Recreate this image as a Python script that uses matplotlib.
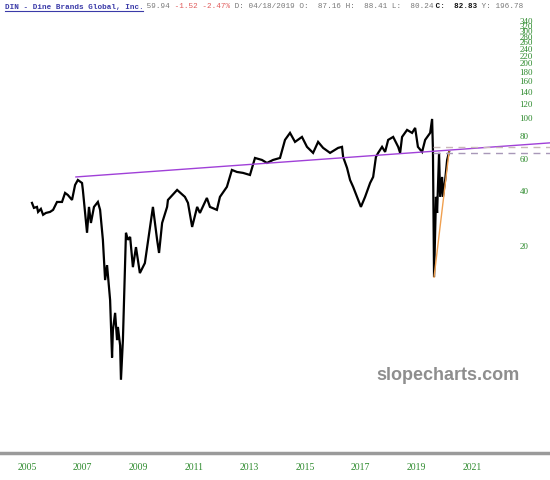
import matplotlib
matplotlib.use("Agg")
import matplotlib.pyplot as plt
from matplotlib.lines import Line2D

# price history (decimal year, close)
years = [2005.18, 2005.25, 2005.36, 2005.40, 2005.50, 2005.58, 2005.68, 2005.83,
         2005.94, 2006.08, 2006.26, 2006.37, 2006.47, 2006.62, 2006.73, 2006.83,
         2006.98, 2007.01, 2007.16, 2007.23, 2007.30, 2007.41, 2007.55, 2007.63,
         2007.73, 2007.81, 2007.88, 2007.99, 2008.06, 2008.09, 2008.17, 2008.24,
         2008.27, 2008.35, 2008.38, 2008.45, 2008.56, 2008.63, 2008.71, 2008.81,
         2008.92, 2009.06, 2009.24, 2009.53, 2009.68, 2009.75, 2009.86, 2010.04,
         2010.07, 2010.40, 2010.68, 2010.79, 2010.94, 2011.12, 2011.22, 2011.47,
         2011.58, 2011.83, 2011.94, 2012.19, 2012.37, 2012.55, 2012.77, 2013.02,
         2013.20, 2013.45, 2013.63, 2013.85, 2014.10, 2014.28, 2014.46, 2014.64,
         2014.89, 2015.07, 2015.29, 2015.47, 2015.65, 2015.90, 2016.19, 2016.33,
         2016.37, 2016.51, 2016.62, 2016.73, 2016.87, 2017.01, 2017.16, 2017.34,
         2017.45, 2017.55, 2017.63, 2017.77, 2017.88, 2017.99, 2018.17, 2018.35,
         2018.42, 2018.49, 2018.67, 2018.85, 2018.96, 2019.06, 2019.21, 2019.32,
         2019.50, 2019.57, 2019.60, 2019.64, 2019.71, 2019.75, 2019.82, 2019.86,
         2019.93, 2019.96, 2020.04, 2020.11, 2020.18]
prices = [34.4, 32.3, 32.7, 30.7, 31.9, 29.6, 30.3, 30.7,
          31.5, 34.8, 34.8, 39.0, 38.0, 35.7, 43.1, 45.9,
          44.2, 40.5, 23.6, 32.7, 26.7, 32.7, 34.8, 31.5,
          21.6, 13.0, 15.7, 10.1, 4.9, 6.9, 8.6, 6.1,
          7.2, 5.7, 3.7, 6.1, 23.6, 21.6, 22.4, 15.3,
          19.7, 14.2, 16.1, 32.7, 21.6, 18.3, 26.7, 32.7,
          35.7, 40.5, 37.1, 34.4, 25.4, 32.7, 30.3, 36.6,
          32.7, 31.5, 37.1, 42.1, 52.1, 50.8, 50.2, 48.9,
          60.6, 59.1, 56.9, 59.1, 60.6, 76.1, 83.1, 74.2,
          79.0, 69.7, 64.6, 74.2, 68.8, 64.6, 68.8, 69.7,
          61.4, 53.5, 45.9, 42.1, 37.1, 32.7, 37.1, 44.2,
          47.7, 61.4, 64.6, 69.7, 65.4, 76.1, 79.0, 69.7,
          64.6, 79.0, 86.3, 83.1, 88.5, 69.7, 65.4, 76.1,
          83.1, 99.1, 67.1, 13.5, 37.1, 30.3, 64.6, 37.1,
          47.7, 37.1, 45.9, 59.1, 65.4]

# trendlines
purple_x = [2006.76, 2023.81]
purple_y = [47.7, 73.3]
orange_x = [2019.64, 2020.18]
orange_y = [13.5, 65.4]
dash_start = 2019.60
dash_levels = [69.7, 64.6]

year_ticks = [2005, 2007, 2009, 2011, 2013, 2015, 2017, 2019, 2021]
price_ticks = [20, 40, 60, 80, 100, 120, 140, 160, 180, 200, 220, 240,
               260, 280, 300, 320, 340]

header = [("DIN - Dine Brands Global, Inc.", "#3a3aa8", "bold"),
          (" 59.94", "#777777", "normal"),
          (" -1.52 -2.47%", "#e05a5a", "normal"),
          (" D: 04/18/2019 O:  87.16 H:  88.41 L:  80.24", "#777777", "normal"),
          (" C:  82.83", "#111111", "bold"),
          (" Y: 196.78", "#777777", "normal")]

W, H = 550, 480
fig = plt.figure(figsize=(W / 100, H / 100), dpi=100)
ax = fig.add_axes([0, 27 / H, 1, 439 / H])

ax.set_yscale("log")
ax.set_xlim(2004.03, 2023.81)
ax.set_ylim(1.47, 372)

ax.plot(years, prices, color="black", lw=1.6, solid_joinstyle="miter")
ax.plot(purple_x, purple_y, color="#a040d8", lw=1.0)
ax.plot(orange_x, orange_y, color="#f0a050", lw=1.0)
ax.plot([dash_start, purple_x[1]], [dash_levels[0]] * 2, color="#c8b8b8",
        lw=1.0, ls=(0, (5, 4)))
ax.plot([dash_start, purple_x[1]], [dash_levels[1]] * 2, color="#a898b8",
        lw=1.0, ls=(0, (5, 4)))

green = "#2e8b2e"
ax.set_xticks(year_ticks)
ax.set_xticklabels([str(y) for y in year_ticks], fontsize=7,
                   family="Liberation Serif", color=green)
ax.set_yticks(price_ticks)
ax.set_yticklabels([str(p) for p in price_ticks], fontsize=6.5,
                   family="Liberation Serif", color=green)
ax.minorticks_off()
ax.tick_params(axis="x", length=0, pad=7)
ax.tick_params(axis="y", length=0, left=False, right=False,
               labelleft=False, labelright=True, pad=-22)

for side in ["top", "left", "right"]:
    ax.spines[side].set_visible(False)
ax.spines["bottom"].set_color("#9a9a9a")
ax.spines["bottom"].set_linewidth(2.5)

# watermark, placed in pixels from the bottom-left corner
ax.text(448, H - 375, "slopecharts.com", transform=None, fontsize=13,
        fontweight="bold", family="Liberation Sans", color="#8e8e8e",
        ha="center", va="center")

# header line, monospaced so each segment starts after the previous one
char_w = 0.6 * 5.5 * 100 / 72
n = 0
for txt, col, wt in header:
    fig.text((5 + n * char_w) / W, 1 - 7 / H, txt, fontsize=5.5,
             family="Liberation Mono", color=col, fontweight=wt, va="center")
    n += len(txt)
title_len = len(header[0][0]) * char_w
fig.add_artist(Line2D([5 / W, (5 + title_len) / W], [1 - 11 / H] * 2,
                      transform=fig.transFigure, color="#3a3aa8", lw=0.8))

fig.savefig("out.png", dpi=100)
